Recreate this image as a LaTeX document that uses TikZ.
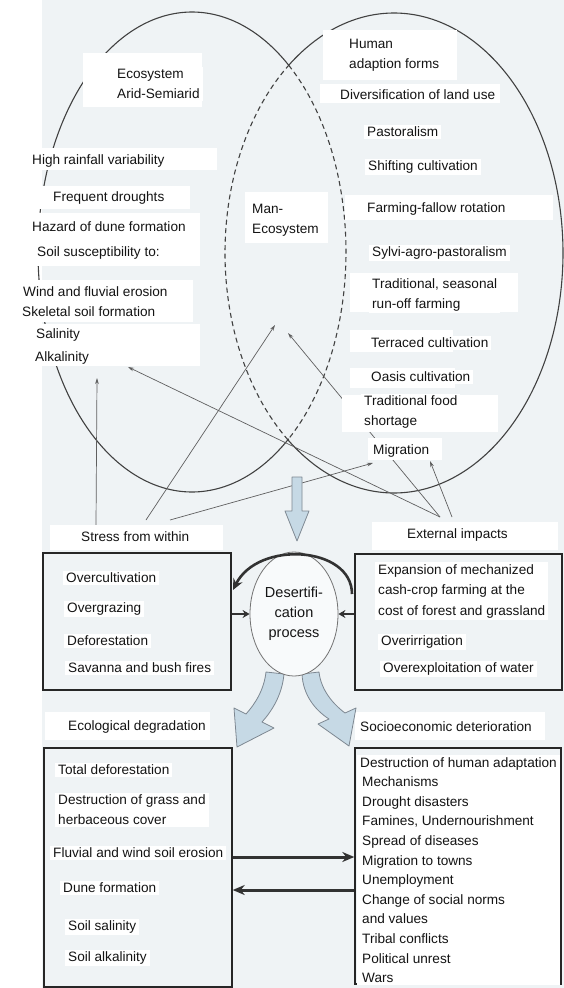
\documentclass[tikz,border=0pt]{standalone}
\usepackage{fontspec}
\setmainfont{Liberation Sans}
\usetikzlibrary{arrows.meta,shapes.geometric,calc}
\definecolor{bgc}{RGB}{239,243,245}
\definecolor{txtc}{RGB}{20,20,20}
\definecolor{linec}{RGB}{65,65,65}
\definecolor{thinc}{RGB}{95,95,95}
\definecolor{blockfill}{RGB}{198,217,229}
\definecolor{blockline}{RGB}{125,135,145}
\definecolor{darkc}{RGB}{50,50,50}
\definecolor{desfill}{RGB}{248,250,251}
\begin{document}
\begin{tikzpicture}[x=1pt,y=-1pt,
  lbl/.style={font=\fontsize{13.6}{20}\selectfont, text=txtc, fill=white, inner xsep=3pt, inner ysep=2pt, anchor=west, align=left},
  patch/.style={fill=white},
  framebox/.style={draw=black!85, line width=1.4pt, inner sep=0pt},
  circ/.style={draw=linec, line width=1.1pt},
  circdash/.style={draw=linec, line width=1.1pt, dash pattern=on 5pt off 3.5pt},
  thinarrow/.style={draw=thinc, line width=0.7pt, -{Stealth[length=6pt,width=3.6pt]}},
  thickarrow/.style={draw=darkc, line width=3pt, -{Stealth[length=12pt,width=10pt]}},
  shortarrow/.style={draw=darkc, line width=2.6pt, -{Stealth[length=7pt,width=8pt]}},
  blockarrow/.style={fill=blockfill, draw=blockline, line width=0.8pt, line join=round},
]
\useasboundingbox (0,0) rectangle (564,988);
\fill[bgc] (42,0) rectangle (564,988);

% the two overlapping ellipses
\draw[circ] plot[domain=51.1:308.9, samples=140, smooth, variable=\t] ({192+154*cos(\t)},{252+240*sin(\t)});
\draw[circdash] plot[domain=-51.1:51.1, samples=60, smooth, variable=\t] ({192+154*cos(\t)},{252+240*sin(\t)});
\draw[circ] plot[domain=-128.9:128.9, samples=140, smooth, variable=\t] ({394+169*cos(\t)},{253+240*sin(\t)});
\draw[circdash] plot[domain=128.9:231.1, samples=60, smooth, variable=\t] ({394+169*cos(\t)},{253+240*sin(\t)});

% thin arrows
\coordinate (s1) at (96,525);
\coordinate (s2) at (146,520);
\coordinate (s3) at (170,520);
\coordinate (x1) at (440,517);
\coordinate (x2) at (452,517);
\coordinate (t1) at (97,378);
\coordinate (t2) at (275,325);
\coordinate (t4) at (128,367);
\coordinate (t5) at (288,333);
\coordinate (m1) at (373,463);
\coordinate (m2) at (430,461);
\draw[thinarrow] (s1) -- (t1);
\draw[thinarrow] (s2) -- (t2);
\draw[thinarrow] (s3) -- (m1);
\draw[thinarrow] (x1) -- (t4);
\draw[thinarrow] (x1) -- (t5);
\draw[thinarrow] (x2) -- (m2);

% white paper patches behind the texts
\fill[patch] (83,53) rectangle (202,107);
\fill[patch] (0,148) rectangle (217,170);
\fill[patch] (20,186) rectangle (190,209);
\fill[patch] (0,213) rectangle (200,240);
\fill[patch] (12,240) rectangle (200,266);
\fill[patch] (15,280) rectangle (193,322);
\fill[patch] (10,324) rectangle (200,366);
\fill[patch] (323,30) rectangle (457,80);
\fill[patch] (320,84) rectangle (500,103);
\fill[patch] (345,195) rectangle (553,220);
\fill[patch] (350,273) rectangle (518,312);
\fill[patch] (350,330) rectangle (453,352);
\fill[patch] (350,368) rectangle (455,388);
\fill[patch] (342,395) rectangle (498,432);
\fill[patch] (368,438) rectangle (442,460);
\fill[patch] (245,192) rectangle (328,243);
\fill[patch] (50,525) rectangle (223,550);
\fill[patch] (372,522) rectangle (558,550);
\fill[patch] (45,712) rectangle (210,740);
\fill[patch] (355,712) rectangle (545,740);

% texts in the ellipses
\node[lbl] (eco) at (114,84) {Ecosystem\\Arid-Semiarid};
\node[lbl] (high) at (29,161) {High rainfall variability};
\node[lbl] (freq) at (50,198) {Frequent droughts};
\node[lbl] (haz) at (29,227) {Hazard of dune formation};
\node[lbl] (soil) at (34,253) {Soil susceptibility to:};
\node[lbl] (wind) at (20,292) {Wind and fluvial erosion};
\node[lbl] (skel) at (19,312) {Skeletal soil formation};
\node[lbl] (sal) at (33,335) {Salinity};
\node[lbl] (alk) at (32,358) {Alkalinity};
\node[lbl] (human) at (346,55) {Human\\adaption forms};
\node[lbl] (div) at (337,95) {Diversification of land use};
\node[lbl] (past) at (364,132) {Pastoralism};
\node[lbl] (shift) at (365,167) {Shifting cultivation};
\node[lbl] (farm) at (364,209) {Farming-fallow rotation};
\node[lbl] (sylvi) at (369,253) {Sylvi-agro-pastoralism};
\node[lbl] (trad) at (369,295) {Traditional, seasonal\\run-off farming};
\node[lbl] (terr) at (368,343) {Terraced cultivation};
\node[lbl] (oasis) at (368,377) {Oasis cultivation};
\node[lbl] (food) at (361,412) {Traditional food\\shortage};
\node[lbl] (migr) at (370,451) {Migration};
\node[lbl] (man) at (249,220) {Man-\\Ecosystem};
\node[lbl] (stress) at (78,537) {Stress from within};
\node[lbl] (ext) at (404,535) {External impacts};

% boxes
\node[framebox, minimum width=188pt, minimum height=137pt] (sbox) at (137,621.5) {};
\node[framebox, minimum width=207pt, minimum height=136pt] (ebox) at (458.5,622) {};
\node[framebox, minimum width=188pt, minimum height=239pt] (ecobox) at (138,867.5) {};
\node[framebox, minimum width=206pt, minimum height=236pt] (socbox) at (458,866) {};

\node[lbl] (overc) at (63,578) {Overcultivation};
\node[lbl] (overg) at (64,609) {Overgrazing};
\node[lbl] (defor) at (64,641) {Deforestation};
\node[lbl] (sav) at (65,668) {Savanna and bush fires};
\node[lbl, font=\fontsize{13.6}{20.5}\selectfont] (expa) at (375,591) {Expansion of mechanized\\cash-crop farming at the\\cost of forest and grassland};
\node[lbl] (irr) at (378,642) {Overirrigation};
\node[lbl] (overex) at (380,669) {Overexploitation of water};

\node[lbl] (ecol) at (65,727) {Ecological degradation};
\node[lbl] (socio) at (357,727) {Socioeconomic deterioration};

\node[lbl] (totdef) at (55,770) {Total deforestation};
\node[lbl] (grass) at (55,810) {Destruction of grass and\\herbaceous cover};
\node[lbl] (fluv) at (50,853) {Fluvial and wind soil erosion};
\node[lbl] (dune) at (60,888) {Dune formation};
\node[lbl] (ssal) at (65,927) {Soil salinity};
\node[lbl] (salk) at (65,958) {Soil alkalinity};
\node[lbl, font=\fontsize{13.6}{19.6}\selectfont] (soclist) at (357,870) {Destruction of human adaptation\\
\hspace*{2pt}Mechanisms\\
\hspace*{2pt}Drought disasters\\
\hspace*{2pt}Famines, Undernourishment\\
\hspace*{2pt}Spread of diseases\\
\hspace*{2pt}Migration to towns\\
\hspace*{2pt}Unemployment\\
\hspace*{2pt}Change of social norms\\
\hspace*{2pt}and values\\
\hspace*{2pt}Tribal conflicts\\
\hspace*{2pt}Political unrest\\
\hspace*{2pt}Wars};

% block arrows
\draw[blockarrow] (292,477) -- (302,477) -- (302,511) -- (309,511) -- (297,541) -- (285,511) -- (292,511) -- cycle;
\draw[blockarrow] (266,672) .. controls (264,690) and (255,704) .. (246,714) -- (234,708) -- (237,747) -- (274,728) -- (262,722) .. controls (271,712) and (282,696) .. (284,674) -- cycle;
\draw[blockarrow] (302,674) .. controls (303,695) and (315,710) .. (329,719) -- (318,724) -- (349,746) -- (356,708) -- (345,713) .. controls (333,704) and (321,690) .. (319,672) -- cycle;

% desertification process
\node[ellipse, draw=black!55, line width=0.8pt, fill=desfill, minimum width=88pt, minimum height=124pt, inner sep=0pt, align=center, text=txtc, font=\fontsize{14.5}{20}\selectfont] (des) at (294,614) {Desertifi-\\cation\\process};

\coordinate (arcS) at (352,594);
\coordinate (arcE) at (233,590);
\draw[darkc, line width=2.6pt, -{Stealth[length=11pt,width=10pt]}] (arcS) .. controls (352,546) and (258,540) .. (arcE);

\draw[shortarrow] (sbox.east |- des.west) -- (des.west);
\draw[shortarrow] (ebox.west |- des.east) -- (des.east);

\coordinate (r1) at (0,857);
\coordinate (r2) at (0,890);
\draw[thickarrow] (ecobox.east |- r1) -- (socbox.west |- r1);
\draw[thickarrow] (socbox.west |- r2) -- (ecobox.east |- r2);
\end{tikzpicture}
\end{document}
